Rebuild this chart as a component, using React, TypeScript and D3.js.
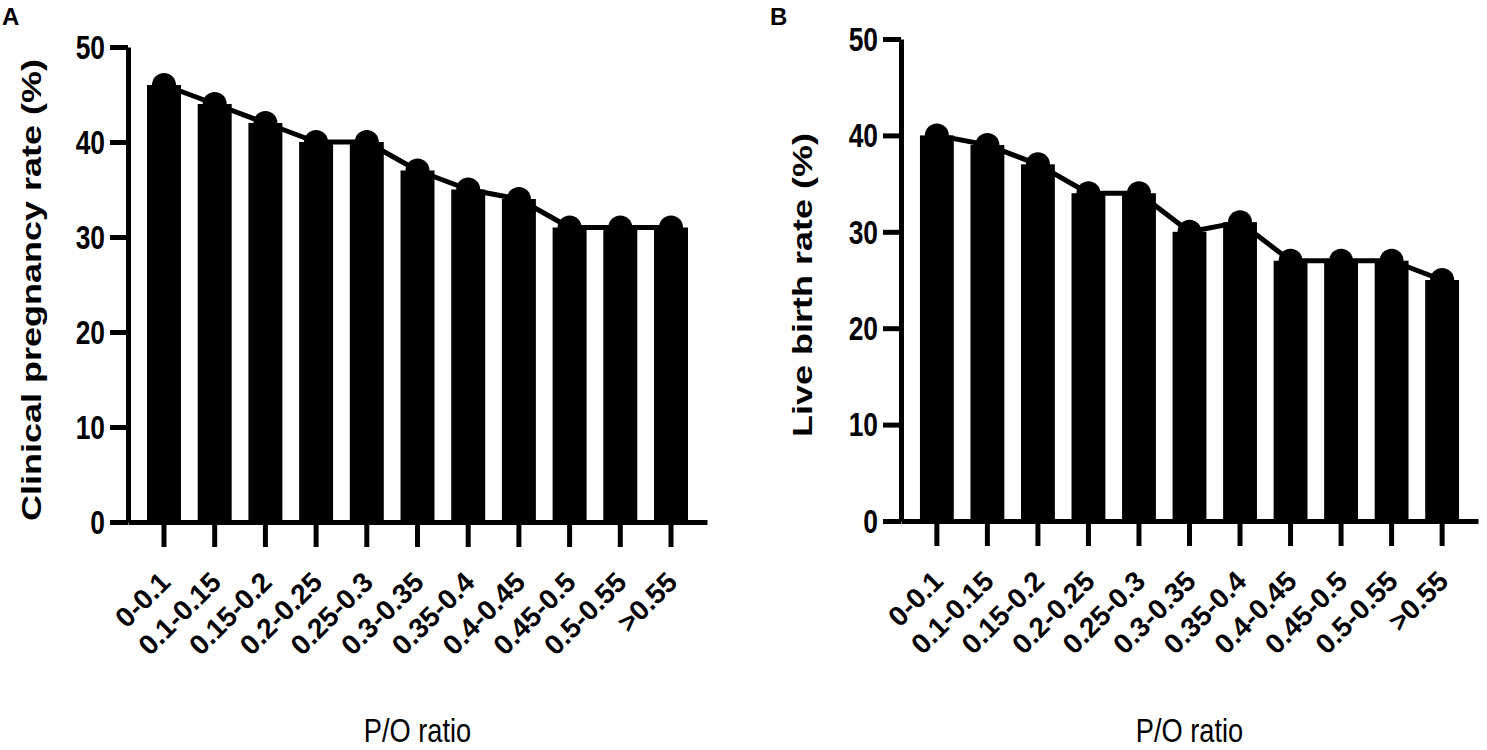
import React, { useEffect, useRef } from 'react';
import * as d3 from 'd3';

const categories = [
  '0-0.1', '0.1-0.15', '0.15-0.2', '0.2-0.25', '0.25-0.3', '0.3-0.35',
  '0.35-0.4', '0.4-0.45', '0.45-0.5', '0.5-0.55', '>0.55',
];
const pregnancyRate = [46, 44, 42, 40, 40, 37, 35, 34, 31, 31, 31];
const liveBirthRate = [40, 39, 37, 34, 34, 30, 31, 27, 27, 27, 25];
const yTicks = [0, 10, 20, 30, 40, 50];

const FONT = "'Liberation Sans', Arial, sans-serif";

interface PanelOpts {
  letter: string;
  letterX: number;
  values: number[];
  x0: number;
  x1: number;
  yBottom: number;
  yTop: number;
  yLabel: string;
  yLabelX: number;
  yLabelY: number;
}

function drawPanel(svg: d3.Selection<SVGSVGElement, unknown, null, undefined>, o: PanelOpts) {
  const g = svg.append('g');

  const x = d3
    .scaleBand<string>()
    .domain(categories)
    .range([o.x0, o.x1])
    .paddingInner(0.33)
    .paddingOuter(0.375);

  const y = d3.scaleLinear().domain([0, 50]).range([o.yBottom, o.yTop]);
  const cx = (i: number) => (x(categories[i]) as number) + x.bandwidth() / 2;

  // bars
  g.selectAll('rect.bar')
    .data(o.values)
    .enter()
    .append('rect')
    .attr('class', 'bar')
    .attr('x', (_, i) => x(categories[i]) as number)
    .attr('y', (d) => y(d))
    .attr('width', x.bandwidth())
    .attr('height', (d) => y(0) - y(d))
    .attr('fill', '#000');

  // trend line + dots
  const line = d3
    .line<number>()
    .x((_, i) => cx(i))
    .y((d) => y(d));

  g.append('path')
    .attr('d', line(o.values))
    .attr('fill', 'none')
    .attr('stroke', '#000')
    .attr('stroke-width', 5)
    .attr('stroke-linejoin', 'round');

  g.selectAll('circle')
    .data(o.values)
    .enter()
    .append('circle')
    .attr('cx', (_, i) => cx(i))
    .attr('cy', (d) => y(d))
    .attr('r', 12)
    .attr('fill', '#000');

  // y axis
  const ya = g
    .append('g')
    .attr('transform', `translate(${o.x0},0)`)
    .call(d3.axisLeft(y).tickValues(yTicks).tickSize(18).tickSizeOuter(0));
  ya.select('.domain').attr('stroke-width', 5).attr('stroke', '#000');
  ya.selectAll('.tick line').attr('stroke-width', 5).attr('stroke', '#000');
  ya.selectAll('.tick text')
    .attr('x', 0)
    .attr('dy', '0.34em')
    .attr('transform', 'translate(-23,0) scale(0.8,1)')
    .style('font-family', FONT)
    .style('font-weight', 'bold')
    .style('font-size', '33px')
    .attr('fill', '#000');

  // x axis
  const xa = g
    .append('g')
    .attr('transform', `translate(0,${o.yBottom})`)
    .call(d3.axisBottom(x).tickSize(25).tickSizeOuter(0));
  xa.select('.domain').attr('stroke-width', 5).attr('stroke', '#000');
  xa.selectAll('.tick line').attr('stroke-width', 5).attr('stroke', '#000');
  xa.selectAll('.tick text')
    .attr('x', 0)
    .attr('y', 0)
    .attr('dy', 0)
    .attr('text-anchor', 'end')
    .attr('transform', 'translate(8,62) rotate(-45)')
    .style('font-family', FONT)
    .style('font-weight', 'bold')
    .style('font-size', '28px')
    .attr('fill', '#000');

  // axis titles
  svg.append('text')
    .attr('transform', `translate(${o.yLabelX},${o.yLabelY}) scale(0.78,1) rotate(-90)`)
    .attr('text-anchor', 'middle')
    .attr('dy', '0.35em')
    .style('font-family', FONT)
    .style('font-weight', 'bold')
    .style('font-size', '36px')
    .text(o.yLabel);

  svg.append('text')
    .attr('transform', `translate(${(o.x0 + o.x1) / 2},742) scale(0.8,1)`)
    .attr('text-anchor', 'middle')
    .style('font-family', FONT)
    .style('font-size', '34px')
    .text('P/O ratio');

  svg.append('text')
    .attr('x', o.letterX)
    .attr('y', 25)
    .style('font-family', FONT)
    .style('font-weight', 'bold')
    .style('font-size', '24px')
    .text(o.letter);
}

const App: React.FC = () => {
  const svgRef = useRef<SVGSVGElement | null>(null);

  useEffect(() => {
    if (!svgRef.current) return;
    const svg = d3.select(svgRef.current);
    svg.selectAll('*').remove();

    svg.append('rect').attr('width', 1487).attr('height', 750).attr('fill', '#fff');

    drawPanel(svg, {
      letter: 'A',
      letterX: 2,
      values: pregnancyRate,
      x0: 128,
      x1: 707,
      yBottom: 522,
      yTop: 47,
      yLabel: 'Clinical pregnancy rate (%)',
      yLabelX: 31,
      yLabelY: 290,
    });

    drawPanel(svg, {
      letter: 'B',
      letterX: 770,
      values: liveBirthRate,
      x0: 901,
      x1: 1478,
      yBottom: 521,
      yTop: 39,
      yLabel: 'Live birth rate (%)',
      yLabelX: 802,
      yLabelY: 285,
    });
  }, []);

  return (
    <div>
      <svg
        ref={svgRef}
        width={1487}
        height={750}
        style={{ position: 'absolute', left: 0, top: 0, display: 'block' }}
      ></svg>
    </div>
  );
};

export default App;
